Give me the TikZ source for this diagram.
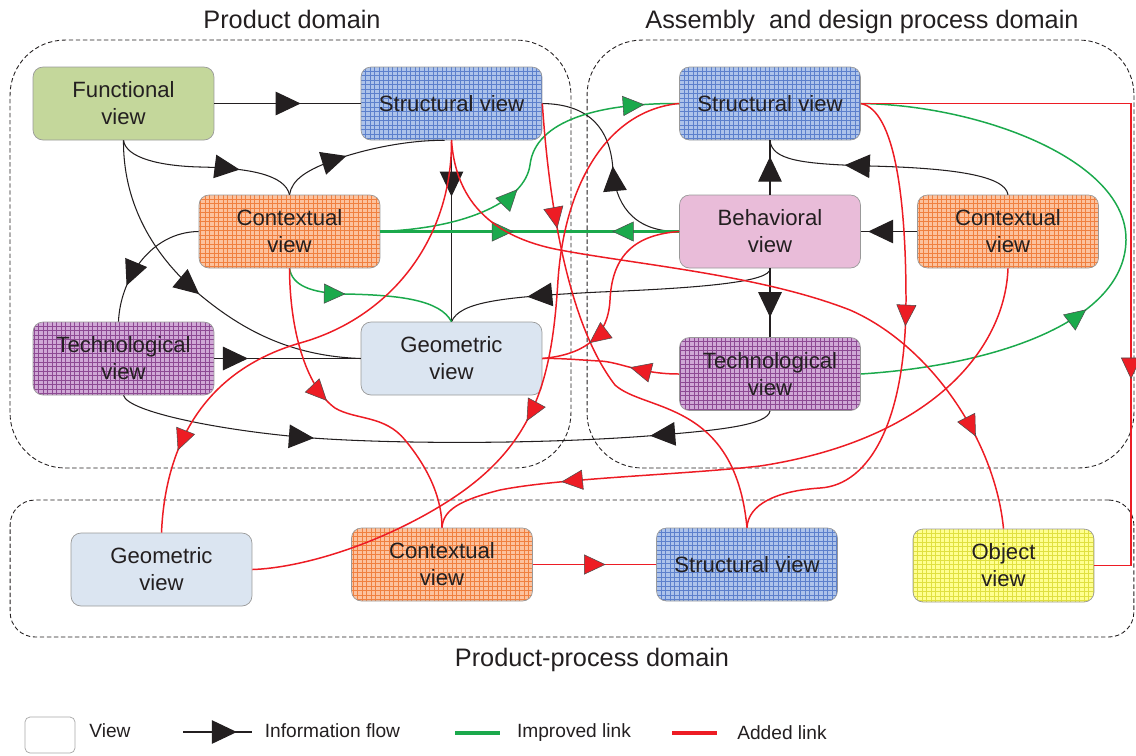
\documentclass[tikz,border=0pt]{standalone}
\usepackage{fontspec}
\setmainfont{Liberation Sans}
\usetikzlibrary{arrows.meta,decorations.markings,calc}
\definecolor{txt}{HTML}{231F20}
\definecolor{myred}{HTML}{ED1C24}
\definecolor{mygreen}{HTML}{1BA94C}
\definecolor{fvfill}{HTML}{C4D79B}
\definecolor{stfill}{HTML}{ADC3EA}
\definecolor{stgrid}{HTML}{5C80CC}
\definecolor{ctfill}{HTML}{FCC29E}
\definecolor{ctgrid}{HTML}{F08040}
\definecolor{tefill}{HTML}{D0A8D6}
\definecolor{tegrid}{HTML}{8E4A94}
\definecolor{gefill}{HTML}{DBE5F1}
\definecolor{befill}{HTML}{E9BCD9}
\definecolor{obfill}{HTML}{FFFF90}
\definecolor{obgrid}{HTML}{E0E040}
\tikzset{
  TB/.tip={Triangle[length=0.5cm,width=0.47cm,fill=txt,color=txt]},
  TR/.tip={Triangle[length=0.43cm,width=0.4cm,fill=myred,color=black!70,line width=0.3pt]},
  TG/.tip={Triangle[length=0.43cm,width=0.4cm,fill=mygreen,color=black!70,line width=0.3pt]},
  fw/.style 2 args={postaction={decorate,decoration={markings,mark=at position #1 with {\arrow{#2}}}}},
  bw/.style 2 args={postaction={decorate,decoration={markings,mark=at position #1 with {\arrowreversed{#2}}}}},
  bk/.style={draw=txt, line width=0.6pt},
  rd/.style={draw=myred, line width=0.85pt},
  gr/.style={draw=mygreen, line width=0.85pt},
  vbox/.style={rectangle, rounded corners=0.2cm, minimum width=3.62cm, minimum height=1.46cm,
    draw=black!40, line width=0.4pt, align=center, text=txt, inner sep=0pt,
    font=\fontsize{12.6}{15.3}\selectfont},
  gridded/.style 2 args={fill=#1, path picture={\draw[draw=#2, line width=0.22pt, step=0.09cm]
    (path picture bounding box.south west) grid (path picture bounding box.north east);}},
  dombox/.style={rectangle, draw=txt, line width=0.5pt, dash pattern=on 2.5pt off 1.5pt, inner sep=0pt},
  ttl/.style={text=txt, font=\fontsize{14.4}{17}\selectfont},
  lgt/.style={text=txt, font=\fontsize{10.9}{13}\selectfont},
  legbox/.style={rectangle, rounded corners=0.1cm, minimum width=1cm, minimum height=0.72cm, draw=black!35, line width=0.4pt}
}
\begin{document}
\begin{tikzpicture}[x=0.02cm,y=-0.02cm]
\useasboundingbox (0,0) rectangle (1136,755);
% domains
\node[dombox, rounded corners=1.1cm, minimum width=11.22cm, minimum height=8.56cm] (pd) at (290.5,254) {};
\node[dombox, rounded corners=1.1cm, minimum width=10.94cm, minimum height=8.56cm] (ad) at (860.5,254) {};
\node[dombox, rounded corners=0.5cm, minimum width=22.48cm, minimum height=2.74cm] (ppd) at (572,568.5) {};
\node[ttl] (tpd) at (292,19) {Product domain};
\node[ttl] (tad) at (862,22) {Assembly\ \ and design process domain};
\node[ttl] (tppd) at (592,660) {Product-process domain};
% product domain views
\node[vbox, fill=fvfill] (FV) at (123.5,103.5) {Functional\\view};
\node[vbox, gridded={stfill}{stgrid}] (SP) at (451.5,103.5) {Structural view};
\node[vbox, gridded={ctfill}{ctgrid}] (CP) at (289.5,231.5) {Contextual\\view};
\node[vbox, gridded={tefill}{tegrid}] (TP) at (123.5,358.5) {Technological\\view};
\node[vbox, fill=gefill] (GP) at (451.5,358.5) {Geometric\\view};
% assembly domain views
\node[vbox, gridded={stfill}{stgrid}] (SA) at (770,103.5) {Structural view};
\node[vbox, fill=befill] (BV) at (770,231.5) {Behavioral\\view};
\node[vbox, gridded={ctfill}{ctgrid}] (CA) at (1008,231.5) {Contextual\\view};
\node[vbox, gridded={tefill}{tegrid}] (TA) at (770,374) {Technological\\view};
% product-process views
\node[vbox, fill=gefill] (GPP) at (161.5,569.5) {Geometric\\view};
\node[vbox, gridded={ctfill}{ctgrid}] (CPP) at (442,564.5) {Contextual\\view};
\node[vbox, gridded={stfill}{stgrid}] (SPP) at (747,564.5) {Structural view};
\node[vbox, gridded={obfill}{obgrid}] (OV) at (1003.5,565.5) {Object\\view};
% black information flows
\draw[bk, fw={0.59}{TB}] (FV.east) -- (SP.west);
\draw[bk, fw={0.68}{TB}] (FV.south) .. controls (126,158) and (160,166) .. (200,167) .. controls (250,168) and (285,175) .. (CP.north);
\draw[bk, fw={0.42}{TB}] (CP.north) .. controls (292,180) and (305,170) .. (340,158) .. controls (370,148) and (410,140) .. ($(SP.south)+(-7,0)$);
\draw[bk, fw={0.5}{TB}] (FV.south) .. controls (123,200) and (150,250) .. (192,288) .. controls (240,330) and (290,356) .. (GP.west);
\draw[bk, fw={0.72}{TB}] (CP.west) .. controls (150,232) and (120,280) .. ($(TP.north)+(-5,0)$);
\draw[bk, fw={0.23}{TB}] (TP.east) -- (GP.west);
\draw[bk, fw={0.30}{TB}, bw={0.81}{TB}] (TP.south) .. controls (128,412) and (220,430) .. (300,437) .. controls (380,444) and (540,445) .. (660,435) .. controls (720,430) and (768,425) .. (TA.south);
\draw[bk, fw={0.31}{TB}] (SP.south) -- (GP.north);
\draw[bk, fw={0.75}{TB}] (BV.south) .. controls (772,282) and (700,288) .. (600,292) .. controls (500,297) and (460,302) .. (GP.north);
\draw[bk, fw={0.5}{TB}] (BV.west) .. controls (630,232) and (615,200) .. (613,170) .. controls (610,120) and (580,104) .. (SP.east);
\draw[bk, fw={0.7}{TB}] (BV.north) -- (SA.south);
\draw[bk, fw={0.67}{TB}] (CA.north) .. controls (1005,175) and (950,168) .. (870,166) .. controls (800,164) and (772,160) .. (SA.south);
\draw[bk, fw={0.87}{TB}] (CA.west) -- (BV.east);
\draw[bk, fw={0.71}{TB}] (BV.south) -- (TA.north);
% green improved links
\draw[gr, fw={0.42}{TG}, fw={0.9}{TG}] (CP.east) .. controls (470,228) and (525,200) .. (530,165) .. controls (535,120) and (600,103) .. (SA.west);
\draw[gr, line width=1.2pt, fw={0.445}{TG}, bw={0.776}{TG}] (CP.east) -- (BV.west);
\draw[gr, fw={0.37}{TG}] (CP.south) .. controls (292,285) and (310,293) .. (345,294) .. controls (400,295) and (440,300) .. (GP.north);
\draw[gr, fw={0.37}{TG}] (TA.east) .. controls (1000,365) and (1125,320) .. (1126,240) .. controls (1127,160) and (980,105) .. (SA.east);
% red added links
\coordinate (rc) at (1131,103.5);
\draw[rd, fw={0.71}{TR}] (SA.east) -- (rc) |- (OV.east);
\draw[rd, fw={0.45}{TR}] (SA.east) .. controls (895,110) and (906,200) .. (906,300) .. controls (906,420) and (870,485) .. (820,488) .. controls (775,491) and (748,505) .. (SPP.north);
\draw[rd, fw={0.8}{TR}] (CA.south) .. controls (1005,350) and (930,440) .. (760,466) .. controls (680,475) and (560,478) .. (500,490) .. controls (460,500) and (443,510) .. (CPP.north);
\draw[rd, fw={0.25}{TR}] (SP.east) .. controls (548,190) and (565,320) .. (615,385) .. controls (645,412) and (735,400) .. (SPP.north);
\draw[rd, fw={0.54}{TR}] (SA.west) .. controls (610,110) and (565,180) .. (558,280) .. controls (552,380) and (535,445) .. (450,500) .. controls (380,545) and (300,568) .. (GPP.east);
\draw[rd, fw={0.84}{TR}] (SP.south) .. controls (452,240) and (390,318) .. (300,343) .. controls (200,372) and (165,450) .. (GPP.north);
\draw[rd, fw={0.87}{TR}] (SP.south) .. controls (455,190) and (480,235) .. (560,250) .. controls (640,265) and (760,275) .. (850,310) .. controls (930,345) and (995,440) .. (OV.north);
\draw[rd, fw={0.43}{TR}] (CP.south) .. controls (290,340) and (310,390) .. (335,408) .. controls (355,420) and (385,415) .. (405,440) .. controls (430,470) and (442,500) .. (CPP.north);
\draw[rd, fw={0.76}{TR}] (BV.west) .. controls (630,235) and (612,260) .. (610,300) .. controls (608,340) and (580,355) .. (GP.east);
\draw[rd, fw={0.36}{TR}] (TA.west) .. controls (640,374) and (620,362) .. (600,361) .. controls (580,360) and (560,358) .. (GP.east);
\draw[rd, fw={0.59}{TR}] (CPP.east) -- (SPP.west);
% legend
\node[legbox] (lgv) at (50,735) {};
\node[lgt] (lgvt) at (110,731) {View};
\coordinate (lf1) at (183,732);
\coordinate (lf2) at (252,732);
\draw[bk, fw={0.78}{TB}] (lf1) -- (lf2);
\node[lgt] (lgft) at (332.5,731) {Information flow};
\coordinate (lg1) at (455,733);
\coordinate (lg2) at (500,733);
\draw[draw=mygreen, line width=2.6pt] (lg1) -- (lg2);
\node[lgt] (lgit) at (574,733) {Improved link};
\coordinate (lr1) at (672,733);
\coordinate (lr2) at (717,733);
\draw[draw=myred, line width=2.6pt] (lr1) -- (lr2);
\node[lgt] (lgat) at (782,733) {Added link};
\end{tikzpicture}
\end{document}
